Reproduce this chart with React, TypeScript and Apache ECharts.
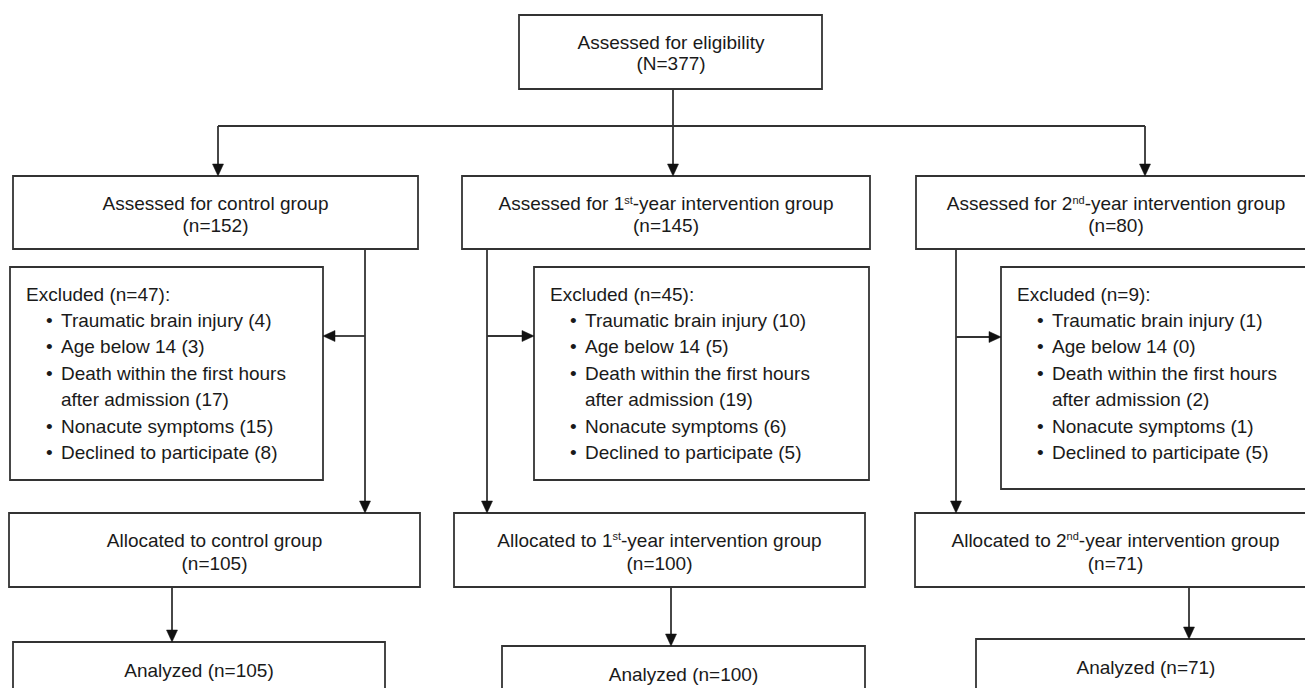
import React, { useEffect, useRef } from "react";
import * as echarts from "echarts";

// ---------- data ----------
const totalAssessed = 377;
const groupNames = ["control group", "1st-year intervention group", "2nd-year intervention group"];
const assessedCounts = [152, 145, 80];
const excludedCounts = [47, 45, 9];
const exclusionReasons = [
  "Traumatic brain injury",
  "Age below 14",
  "Death within the first hours\nafter admission",
  "Nonacute symptoms",
  "Declined to participate",
];
const exclusionCounts = [
  [4, 3, 17, 15, 8],
  [10, 5, 19, 6, 5],
  [1, 0, 2, 1, 5],
];
const allocatedCounts = [105, 100, 71];
const analyzedCounts = [105, 100, 71];

// ---------- layout / style ----------
const FONT = "Liberation Sans, Arial, Helvetica, sans-serif";
const FS = 19;
const INK = "#1a1a1a";
const STROKE = "#333333";
const LW = 1.8;

const topBox = { x: 519, y: 15, w: 303, h: 74, cx: 671, l1: 42, l2: 63.5 };
const row2Box = [
  { x: 13, w: 405, cx: 215.5 },
  { x: 462, w: 408, cx: 666 },
  { x: 916, w: 400, cx: 1116 },
];
const row2Y = 176, row2H = 73, row2L1 = 203.5, row2L2 = 225.5;
const exclBox = [
  { x: 10, y: 267, w: 313, h: 213 },
  { x: 534, y: 267, w: 335, h: 213 },
  { x: 1001, y: 267, w: 330, h: 222 },
];
const exclFirstY = 294, exclStep = 26.4;
const allocBox = [
  { x: 9, w: 411, cx: 214.5 },
  { x: 454, w: 411, cx: 659.5 },
  { x: 915, w: 401, cx: 1115.5 },
];
const allocY = 513, allocH = 74, allocL1 = 540, allocL2 = 563;
const analBox = [
  { x: 13, y: 642, w: 372, cx: 199 },
  { x: 502, y: 646, w: 363, cx: 683.5 },
  { x: 976, y: 639, w: 340, cx: 1146 },
];
const splitY = 126;
const splitX = [218, 673, 1145];
const trunkX = [365, 487, 956];
const branchY = [336, 336, 337];
const branchToX = [323, 534, 1001];
const downX = [172, 671, 1189];

const AH = 12; // arrow length
const AW = 5.5; // arrow half width

function rich(label: string) {
  const m = label.match(/^(.*?)(\d)(st|nd|rd|th)(-.*)$/);
  if (!m) return label;
  return `{n|${m[1]}${m[2]}}{sup|${m[3]}}{n|${m[4]}}`;
}

const richStyles = {
  n: { fontSize: FS, fontFamily: FONT, fill: INK },
  sup: { fontSize: 11, fontFamily: FONT, fill: INK, verticalAlign: "top", lineHeight: 14 },
};

function text(x: number, y: number, t: string, align: string = "center") {
  return {
    type: "text",
    x,
    y,
    silent: true,
    z: 10,
    style: {
      text: t,
      fill: INK,
      fontSize: FS,
      fontFamily: FONT,
      align,
      verticalAlign: "middle",
      rich: richStyles,
    },
  };
}

function box(x: number, y: number, w: number, h: number) {
  return {
    type: "rect",
    silent: true,
    z: 1,
    shape: { x, y, width: w, height: h },
    style: { fill: "#ffffff", stroke: STROKE, lineWidth: LW },
  };
}

function seg(x1: number, y1: number, x2: number, y2: number) {
  return {
    type: "line",
    silent: true,
    z: 2,
    shape: { x1, y1, x2, y2 },
    style: { stroke: STROKE, lineWidth: LW },
  };
}

function head(points: number[][]) {
  return {
    type: "polygon",
    silent: true,
    z: 3,
    shape: { points },
    style: { fill: "#111111", stroke: "#111111", lineWidth: 0.5 },
  };
}

function arrowDown(x: number, y1: number, y2: number) {
  return [seg(x, y1, x, y2 - AH + 1), head([[x - AW, y2 - AH], [x + AW, y2 - AH], [x, y2]])];
}
function arrowH(x1: number, x2: number, y: number) {
  const d = x2 > x1 ? 1 : -1;
  return [
    seg(x1, y, x2 - d * (AH - 1), y),
    head([[x2 - d * AH, y - AW], [x2 - d * AH, y + AW], [x2, y]]),
  ];
}

function buildElements() {
  const els: any[] = [];
  // top
  els.push(box(topBox.x, topBox.y, topBox.w, topBox.h));
  els.push(text(topBox.cx, topBox.l1, "Assessed for eligibility"));
  els.push(text(topBox.cx, topBox.l2, `(N=${totalAssessed})`));
  // split connector
  els.push(seg(splitX[1], topBox.y + topBox.h, splitX[1], splitY));
  els.push(seg(splitX[0], splitY, splitX[2], splitY));
  splitX.forEach((x) => els.push(...arrowDown(x, splitY, row2Y)));

  groupNames.forEach((g, i) => {
    const b = row2Box[i];
    els.push(box(b.x, row2Y, b.w, row2H));
    els.push(text(b.cx, row2L1, rich(`Assessed for ${g}`)));
    els.push(text(b.cx, row2L2, `(n=${assessedCounts[i]})`));

    // exclusion box
    const e = exclBox[i];
    els.push(box(e.x, e.y, e.w, e.h));
    els.push(text(e.x + 16, exclFirstY, `Excluded (n=${excludedCounts[i]}):`, "left"));
    let line = 1;
    exclusionReasons.forEach((r, k) => {
      const parts = `${r} (${exclusionCounts[i][k]})`.split("\n");
      parts.forEach((p, pi) => {
        const y = exclFirstY + line * exclStep;
        if (pi === 0) els.push(text(e.x + 36, y, "\u2022", "left"));
        els.push(text(e.x + 51, y, p, "left"));
        line++;
      });
    });

    // trunk and branch
    els.push(...arrowDown(trunkX[i], row2Y + row2H, allocY));
    els.push(...arrowH(trunkX[i], branchToX[i], branchY[i]));

    // allocated
    const a = allocBox[i];
    els.push(box(a.x, allocY, a.w, allocH));
    els.push(text(a.cx, allocL1, rich(`Allocated to ${g}`)));
    els.push(text(a.cx, allocL2, `(n=${allocatedCounts[i]})`));

    // analyzed
    const n = analBox[i];
    els.push(...arrowDown(downX[i], allocY + allocH, n.y));
    els.push(box(n.x, n.y, n.w, 90));
    els.push(text(n.cx, n.y + 28, `Analyzed (n=${analyzedCounts[i]})`));
  });
  return els;
}

export default function App() {
  const ref = useRef<HTMLDivElement>(null);
  useEffect(() => {
    if (!ref.current) return;
    const chart = echarts.init(ref.current, undefined, { renderer: "svg" });
    chart.setOption({
      animation: false,
      backgroundColor: "#ffffff",
      graphic: { elements: buildElements() },
    });
    return () => chart.dispose();
  }, []);
  return (
    <div
      ref={ref}
      style={{ position: "fixed", left: 0, top: 0, width: 1305, height: 688, background: "#fff" }}
    />
  );
}
